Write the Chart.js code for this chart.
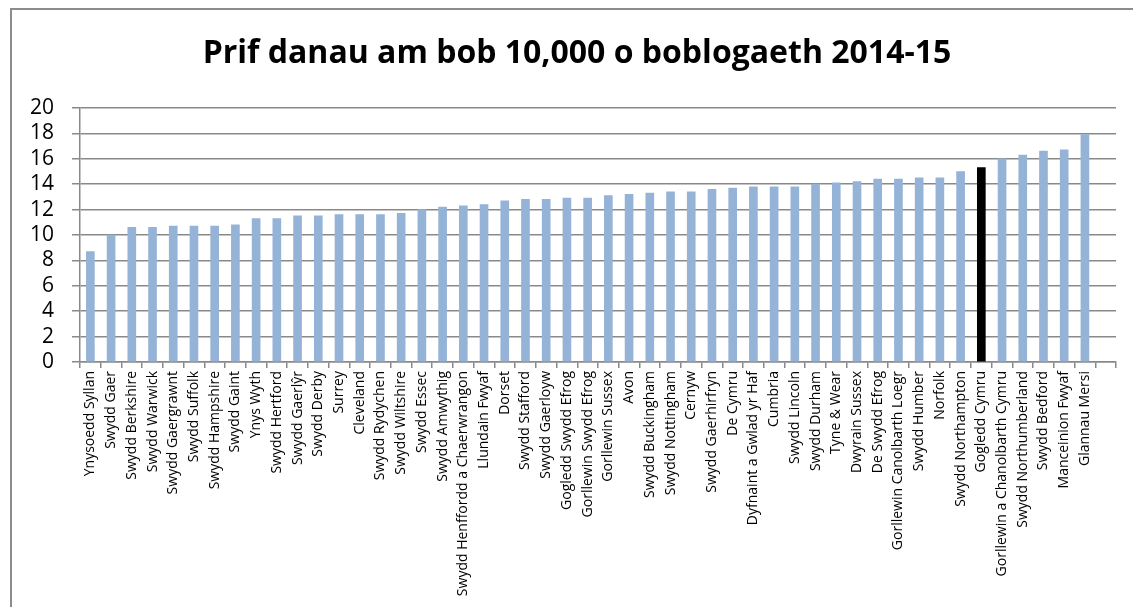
<!DOCTYPE html>
<html>
<head>
<meta charset="utf-8">
<script src="https://cdn.jsdelivr.net/npm/chart.js@4.4.1/dist/chart.umd.min.js"></script>
<style>
  body { margin: 0; background: #fff; }
  #wrap { position: relative; width: 1133px; height: 607px; }
</style>
</head>
<body>
<div id="wrap"><canvas id="chart" width="1133" height="607"></canvas></div>
<script>
// regions, sorted low to high; last slot is an empty category like the original
const regions = [
  'Ynysoedd Syllan', 'Swydd Gaer', 'Swydd Berkshire', 'Swydd Warwick', 'Swydd Gaergrawnt',
  'Swydd Suffolk', 'Swydd Hampshire', 'Swydd Gaint', 'Ynys Wyth', 'Swydd Hertford',
  'Swydd Gaerlŷr', 'Swydd Derby', 'Surrey', 'Cleveland', 'Swydd Rydychen',
  'Swydd Wiltshire', 'Swydd Essec', 'Swydd Amwythig', 'Swydd Henffordd a Chaerwrangon', 'Llundain Fwyaf',
  'Dorset', 'Swydd Stafford', 'Swydd Gaerloyw', 'Gogledd Swydd Efrog', 'Gorllewin Swydd Efrog',
  'Gorllewin Sussex', 'Avon', 'Swydd Buckingham', 'Swydd Nottingham', 'Cernyw',
  'Swydd Gaerhirfryn', 'De Cymru', 'Dyfnaint a Gwlad yr Haf', 'Cumbria', 'Swydd Lincoln',
  'Swydd Durham', 'Tyne & Wear', 'Dwyrain Sussex', 'De Swydd Efrog', 'Gorllewin Canolbarth Loegr',
  'Swydd Humber', 'Norfolk', 'Swydd Northampton', 'Gogledd Cymru', 'Gorllewin a Chanolbarth Cymru',
  'Swydd Northumberland', 'Swydd Bedford', 'Manceinion Fwyaf', 'Glannau Mersi', ''
];

// main fires per 10,000 population
const firesPer10k = [
  8.7, 10.0, 10.6, 10.6, 10.7,
  10.7, 10.7, 10.8, 11.3, 11.3,
  11.5, 11.5, 11.6, 11.6, 11.6,
  11.7, 12.0, 12.2, 12.3, 12.4,
  12.7, 12.8, 12.8, 12.9, 12.9,
  13.1, 13.2, 13.3, 13.4, 13.4,
  13.6, 13.7, 13.8, 13.8, 13.8,
  14.0, 14.1, 14.2, 14.4, 14.4,
  14.5, 14.5, 15.0, 15.3, 16.0,
  16.3, 16.6, 16.7, 17.9, null
];

const highlight = 'Gogledd Cymru';
const yTicks = [0, 2, 4, 6, 8, 10, 12, 14, 16, 18, 20];

const barColors = regions.map(r => r === highlight ? '#000000' : '#95B3D7');
const gridGrey = '#898989';

// outer chart frame (only top and left edges show in the shot)
const framePlugin = {
  id: 'frame',
  afterLayout(chart) {
    // left padding is only there to centre the title; let the y labels use that room
    chart.scales.y.left = 0;
  },
  beforeDraw(chart) {
    const ctx = chart.ctx;
    ctx.save();
    ctx.strokeStyle = '#8c8c8c';
    ctx.lineWidth = 2;
    ctx.strokeRect(11, 9, 1200, 700);
    ctx.restore();
  }
};

new Chart(document.getElementById('chart'), {
  type: 'bar',
  data: {
    labels: regions,
    datasets: [{
      data: firesPer10k,
      backgroundColor: barColors,
      borderWidth: 0,
      barThickness: 8
    }]
  },
  options: {
    responsive: false,
    animation: false,
    layout: { padding: { left: 38, right: 17, top: 0, bottom: 0 } },
    plugins: {
      legend: { display: false },
      tooltip: { enabled: false },
      title: {
        display: true,
        text: 'Prif danau am bob 10,000 o boblogaeth 2014-15',
        color: '#000',
        font: { family: 'Open Sans', size: 32, weight: 'bold', lineHeight: 1.2 },
        padding: { top: 35, bottom: 34.6 }
      }
    },
    scales: {
      x: {
        grid: {
          offset: true,
          drawOnChartArea: false,
          drawTicks: true,
          tickLength: 6,
          color: gridGrey,
          lineWidth: 1.5
        },
        border: { color: gridGrey, width: 1.5 },
        ticks: {
          autoSkip: false,
          minRotation: 90,
          maxRotation: 90,
          padding: 3,
          color: '#000',
          font: { family: 'Open Sans', size: 14 }
        },
        afterFit(scale) { scale.height = 245; }
      },
      y: {
        min: 0,
        max: 20,
        afterBuildTicks(scale) { scale.ticks = yTicks.map(v => ({ value: v })); },
        grid: {
          color: gridGrey,
          lineWidth: 1.5,
          tickLength: 8
        },
        border: { color: gridGrey, width: 1.5 },
        ticks: {
          autoSkip: false,
          padding: 18,
          color: '#000',
          font: { family: 'Open Sans', size: 21 }
        },
        afterFit(scale) { scale.width = 42; }
      }
    }
  },
  plugins: [framePlugin]
});
</script>
</body>
</html>
